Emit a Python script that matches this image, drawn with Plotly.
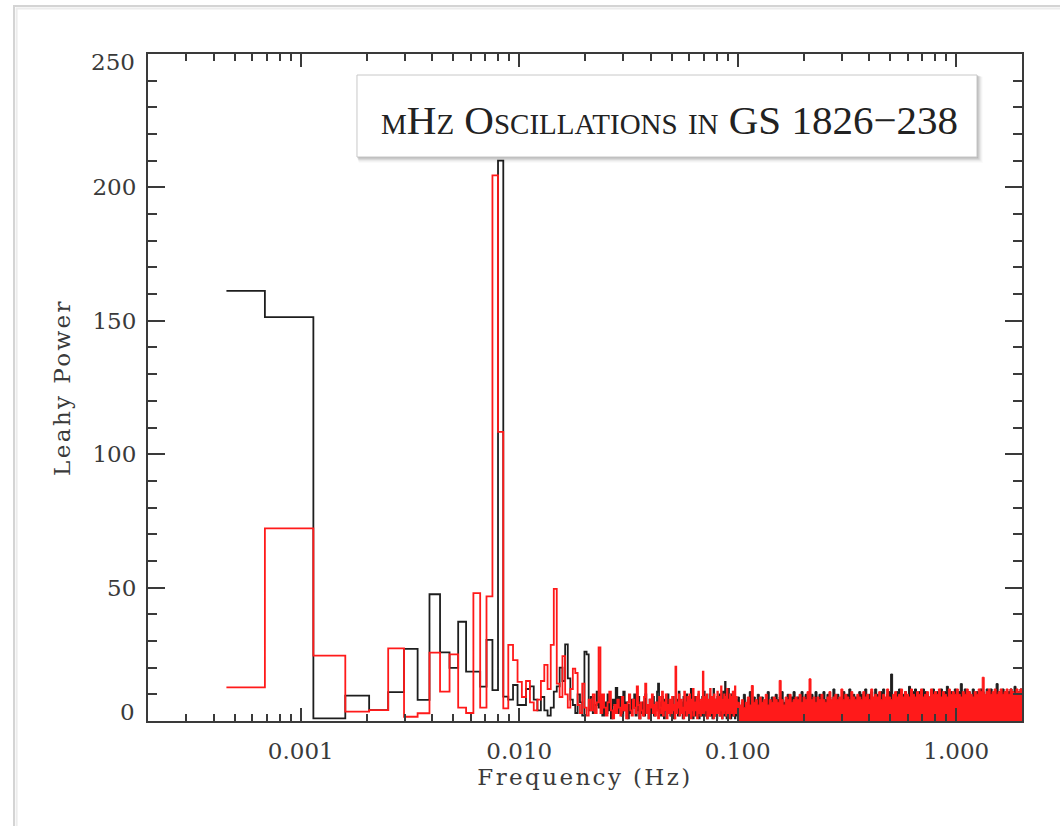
import numpy as np
import plotly.graph_objects as go

# Frequency resolution of the power spectra (Hz); bin k sits at k * DF_HZ
DF_HZ = 0.000457
F_MIN, F_MAX = 0.0002, 2.0

# Leahy power per Fourier bin, k = 1..218 (up to ~0.1 Hz)
black_lo = [
    161.2, 151.4, 1.0, 9.5, 4.1, 10.8, 27.0, 7.9, 47.5, 25.7,
    19.9, 37.2, 18.5, 18.5, 12.9, 30.4, 11.6, 210.0, 9.1, 8.0,
    13.5, 6.0, 6.0, 12.0, 13.0, 8.0, 4.0, 9.0, 4.0, 2.0,
    5.0, 11.0, 13.0, 20.0, 15.0, 28.7, 16.0, 8.0, 6.0, 3.0,
    10.0, 7.0, 2.0, 26.0, 25.0, 4.0, 9.0, 3.0, 6.0, 11.0,
    5, 9, 2, 7, 3, 10, 4, 1, 8, 6,
    12.4, 3, 9, 5, 2, 11, 4, 7, 1, 6,
    3, 8, 5, 10, 2, 4, 9, 1, 6, 3,
    7, 2, 10, 4, 6, 1, 8, 3, 5, 9,
    2, 6, 4, 11, 14, 3, 7, 2, 9, 5,
    1, 8, 4, 6, 10, 3, 5, 2, 7, 4,
    9, 1, 6, 3, 8, 5, 2, 11, 4, 6,
    3, 7, 1, 9, 5, 2, 6, 10, 4, 3,
    8, 2, 5, 12, 3, 6, 1, 7, 4, 9,
    2, 5, 8, 3, 10, 1, 6, 4, 7, 2,
    9, 5, 3, 11, 2, 6, 4, 8, 1, 7,
    5, 3, 10, 2, 6, 9, 4, 1, 7, 12,
    3, 6, 2, 8, 5, 1, 9, 4, 7, 3,
    10, 2, 6, 4, 8, 1, 5, 11, 3, 6,
    2, 14.7, 4, 7, 1, 9, 3, 5, 12, 2,
    6, 4, 8, 1, 10, 3, 7, 5, 2, 9,
    4, 11, 1, 6, 3, 8, 5, 2,
]
red_lo = [
    12.6, 72.2, 24.5, 3.5, 4.1, 27.2, 1.6, 2.9, 25.6, 11.0,
    25.0, 5.0, 3.0, 47.9, 5.0, 46.7, 204.5, 108.4, 4.7, 28.5,
    22.8, 14.7, 9.0, 15.0, 7.0, 4.0, 8.0, 15.0, 21.0, 12.0,
    28.5, 49.5, 14.0, 9.0, 24.3, 10.0, 5.0, 12.0, 19.6, 18.0,
    6.0, 3.0, 14.0, 5.0, 2.0, 8.0, 4.0, 10.0, 3.0, 7.0,
    27.6, 3, 10, 5, 2, 7, 11, 4, 1, 6,
    3, 8, 5, 2, 9, 4, 6, 1, 7, 10,
    4, 2, 8, 5, 3, 13, 6, 1, 7, 4,
    2, 9, 14, 3, 6, 1, 8, 5, 10, 3,
    6, 2, 7, 4, 1, 9, 5, 3, 11, 2,
    7, 4, 10, 1, 6, 3, 8, 5, 2, 9,
    4, 6, 1, 20.4, 3, 7, 5, 10, 2, 6,
    8, 3, 5, 1, 11, 4, 7, 2, 9, 6,
    3, 10, 5, 1, 8, 4, 12, 2, 6, 7,
    4, 9, 1, 5, 11, 3, 7, 2, 8, 6,
    3, 18.5, 5, 2, 9, 6, 4, 10, 1, 7,
    5, 8, 2, 12, 4, 6, 3, 9, 7, 1,
    10, 4, 6, 2, 8, 5, 11, 3, 7, 9,
    2, 6, 4, 13, 5, 1, 8, 7, 3, 10,
    6, 4, 9, 2, 7, 12, 5, 3, 8, 6,
    1, 10, 4, 7, 9, 3, 6, 11, 5, 2,
    8, 4, 13, 6, 3, 9, 7, 5,
]

# Above ~0.1 Hz the bins are far denser than the display: peak power per
# logarithmic frequency cell (0.1 - 2 Hz)
black_hf_peak = [
    9, 5, 7, 10, 6, 8, 11, 7, 9, 6,
    10, 7, 9, 6, 8, 11, 7, 9, 6, 10,
    8, 9, 11, 7, 8, 10, 6, 9, 11, 7,
    9, 8, 11, 7, 10, 9, 8, 10, 7, 11,
    8, 10, 9, 11, 8, 10, 9, 7, 12, 9,
    10, 8, 9, 11, 9, 10, 12, 8, 10, 9,
    9, 11, 10, 8, 12, 9, 10, 11, 8, 12,
    10, 9, 11, 12, 8, 10, 11, 17.6, 9, 10,
    11, 12, 9, 10, 11, 9, 13, 10, 11, 12,
    10, 11, 9, 12, 11, 10, 9, 11, 12, 10,
    11, 10, 12, 10, 11, 13, 10, 11, 9, 12,
    10, 11, 14, 10, 12, 10, 11, 9, 12, 10,
    11, 10, 12, 11, 9, 12, 11, 12, 10, 11,
    14, 11, 10, 12, 11, 10, 11, 12, 11, 13, 10, 11, 12,
]
red_hf_peak = [
    7, 6, 8, 5, 7, 9, 6, 13.3, 7, 8,
    6, 9, 7, 8, 10, 6, 8, 7, 9, 8,
    7, 15.2, 8, 6, 9, 8, 10, 7, 8, 9,
    8, 10, 7, 9, 8, 11, 15.8, 8, 9, 7,
    9, 8, 10, 8, 7, 9, 11, 8, 9, 10,
    8, 9, 12, 8, 10, 9, 8, 11, 9, 8,
    10, 9, 8, 11, 9, 10, 8, 12, 9, 10,
    9, 11, 8, 10, 9, 12, 9, 8, 10, 11,
    9, 10, 12, 9, 11, 10, 9, 12, 10, 9,
    11, 10, 12, 9, 10, 11, 9, 12, 10, 11,
    10, 12, 9, 11, 10, 9, 12, 10, 11, 10,
    12, 10, 9, 11, 10, 12, 11, 10, 9, 11,
    10, 12, 11, 16.4, 10, 11, 12, 10, 11, 12,
    10, 11, 12, 10, 11, 12, 10, 12, 11, 10, 12, 11, 12,
]

x_major = [0.001, 0.01, 0.1, 1.0]
y_major = [0, 50, 100, 150, 200, 250]

TITLE = "mHz Oscillations in GS 1826\u2212238"
X_TITLE = "Frequency (Hz)"
Y_TITLE = "Leahy Power"

BLACK = "#1e1e1e"
RED = "#ff1a1a"
AXIS = "#3a3a3a"
TEXT = "#3a3a3a"
TICK_FONT = dict(family="DejaVu Serif", size=23, color=TEXT)
AXIS_TITLE_FONT = dict(family="DejaVu Serif", size=23, color=TEXT)


def histogram_path(freq, power):
    """Step outline centred on each bin (edges at arithmetic midpoints)."""
    freq = np.asarray(freq, float)
    power = np.asarray(power, float)
    edges = 0.5 * (freq[:-1] + freq[1:])
    x = np.concatenate([[freq[0]], edges, [freq[-1]]])
    y = np.concatenate([power, [power[-1]]])
    return x, y


freq_lo = DF_HZ * np.arange(1, len(black_lo) + 1)
hf_edges = np.geomspace(freq_lo[-1], F_MAX, len(red_hf_peak) + 1)

fig = go.Figure()

bx, by = histogram_path(freq_lo, black_lo)
fig.add_trace(go.Scatter(x=bx, y=by, mode="lines", line=dict(color=BLACK, width=1.8, shape="hv"),
                         hoverinfo="skip"))
fig.add_trace(go.Scatter(x=hf_edges, y=list(black_hf_peak) + [black_hf_peak[-1]], mode="lines",
                         line=dict(color=BLACK, width=1, shape="hv"), fill="tozeroy",
                         fillcolor=BLACK, hoverinfo="skip"))

rx, ry = histogram_path(freq_lo, red_lo)
fig.add_trace(go.Scatter(x=rx, y=ry, mode="lines", line=dict(color=RED, width=1.8, shape="hv"),
                         hoverinfo="skip"))
fig.add_trace(go.Scatter(x=hf_edges, y=list(red_hf_peak) + [red_hf_peak[-1]], mode="lines",
                         line=dict(color=RED, width=1, shape="hv"), fill="tozeroy",
                         fillcolor=RED, hoverinfo="skip"))

# log minor ticks (2..9 within each decade)
x_minor = [m * 10.0 ** d for d in range(-4, 1) for m in range(2, 10)
           if F_MIN <= m * 10.0 ** d <= F_MAX and m * 10.0 ** d not in x_major]

# the end labels of the power axis sit just inside the frame
y_ticktext = ["" if v in (y_major[0], y_major[-1]) else str(v) for v in y_major]
end_labels = [
    dict(text=str(y_major[0]), xref="paper", yref="y", x=0, y=y_major[0], xanchor="right",
         yanchor="middle", xshift=-11, yshift=9, showarrow=False, font=TICK_FONT),
    dict(text=str(y_major[-1]), xref="paper", yref="y", x=0, y=y_major[-1], xanchor="right",
         yanchor="middle", xshift=-11, yshift=-8, showarrow=False, font=TICK_FONT),
]

fig.update_xaxes(
    type="log", range=[np.log10(F_MIN), np.log10(F_MAX)],
    tickvals=x_major, tickformat=".3f", tickfont=TICK_FONT,
    ticks="inside", ticklen=13, tickwidth=1.5, tickcolor=AXIS,
    minor=dict(tickvals=x_minor, ticks="inside", ticklen=7, tickwidth=1.5, tickcolor=AXIS),
    showline=True, linecolor=AXIS, linewidth=2, mirror="ticks",
    showgrid=False, zeroline=False, ticklabelstandoff=8,
    title=dict(text=X_TITLE, font=AXIS_TITLE_FONT, standoff=6),
)
fig.update_yaxes(
    range=[0, 250], tickvals=y_major, ticktext=y_ticktext, tickfont=TICK_FONT,
    ticks="inside", ticklen=17, tickwidth=1.5, tickcolor=AXIS,
    minor=dict(dtick=10, ticks="inside", ticklen=9, tickwidth=1.5, tickcolor=AXIS),
    showline=True, linecolor=AXIS, linewidth=2, mirror="ticks",
    showgrid=False, zeroline=False, ticklabelstandoff=5,
    title=dict(text=Y_TITLE, font=AXIS_TITLE_FONT, standoff=15),
)

shapes = []
# page edge with soft shadow (top and left)
for off, col in [(0.0, "#d4d4d4"), (0.003, "#ececec")]:
    shapes.append(dict(type="rect", xref="paper", yref="paper",
                       x0=-0.1533 + off, x1=1.3, y0=-0.4, y1=1.072 - off * 1.3,
                       line=dict(color=col, width=2), fillcolor="rgba(0,0,0,0)", layer="below"))
# title box shadow, then box
bx0, bx1, by0, by1 = 0.2391, 0.9485, 0.8456, 0.9685
for i, a in enumerate([0.10, 0.08, 0.06, 0.04, 0.02]):
    d = (i + 1) * 1.2
    shapes.append(dict(type="rect", xref="paper", yref="paper",
                       x0=bx0 + d / 874 * 0.3, x1=bx1 + d / 874, y0=by0 - d / 667, y1=by1 - d / 667 * 0.3,
                       line=dict(width=0), fillcolor=f"rgba(0,0,0,{a})", layer="above"))
shapes.append(dict(type="rect", xref="paper", yref="paper", x0=bx0, x1=bx1, y0=by0, y1=by1,
                   line=dict(color="#c8c8c8", width=1), fillcolor="white", layer="above"))

fig.update_layout(
    width=1060, height=826,
    margin=dict(l=148, r=38, t=54, b=105),
    paper_bgcolor="white", plot_bgcolor="white",
    showlegend=False,
    shapes=shapes,
    annotations=end_labels + [dict(
        text=TITLE, xref="paper", yref="paper", x=(bx0 + bx1) / 2 + 0.003, y=(by0 + by1) / 2 - 0.006,
        xanchor="center", yanchor="middle", showarrow=False,
        font=dict(family="Liberation Serif", size=41, color="#222222", variant="small-caps"),
    )],
)

# the axis titles are set with generous letter spacing
spacing_js = ("document.querySelectorAll('.xtitle, .ytitle').forEach(function (t) {"
              " t.style.letterSpacing = '2.4px'; });")
fig.write_html("out.html", post_script=spacing_js)
